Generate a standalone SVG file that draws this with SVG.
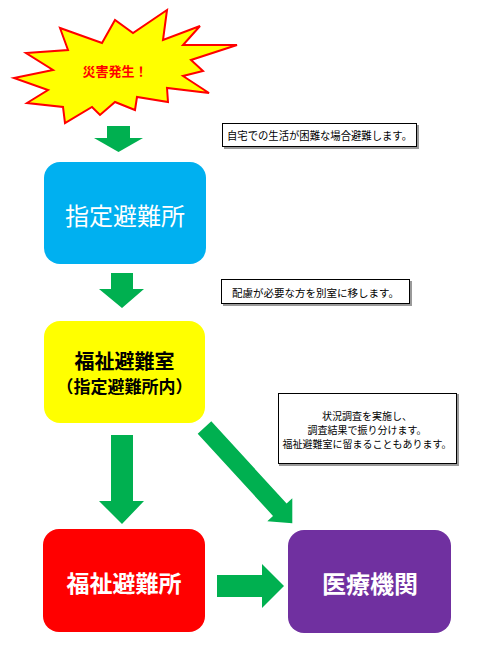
<svg xmlns="http://www.w3.org/2000/svg" width="481" height="655" viewBox="0 0 481 655">
<style>
text{font-family:"Noto Sans CJK JP","Noto Sans CJK SC",sans-serif;text-anchor:middle;dominant-baseline:central}
.big{font-size:23px;fill:#fff;font-weight:bold}
.note{font-size:10.3px;fill:#000}
.nbox{fill:#fff;stroke:#000;stroke-width:1}
.shadow{fill:#9a9a9a}
.arrow{fill:#00B050}
</style>
<rect width="481" height="655" fill="#fff"/>
<g id="disaster">
<polygon points="167,10 163,40 200,26 183,45 237,45 191,60 203,71 183,76 209,93 167,88 168,102 137,97 135,110 115,102 100,115 92,107 65,123 63,107 27,103 48,90 14,78 53,70 26,53 68,50 60,28 102,43 115,20 133,33" fill="#FFFF00" stroke="#FF0000" stroke-width="2" stroke-linejoin="miter"/>
<text x="115" y="70" style="font-size:13px;fill:#FF0000;font-weight:bold">災害発生！</text>
</g>
<g id="note1">
<rect class="shadow" x="224" y="125" width="195" height="24"/>
<rect class="nbox" x="222.5" y="123.5" width="194" height="23"/>
<text class="note" x="319.5" y="135" textLength="185" lengthAdjust="spacingAndGlyphs" style="font-size:10.8px">自宅での生活が困難な場合避難します。</text>
</g>
<g id="shitei">
<rect x="44" y="162" width="162" height="102" rx="16" fill="#00B0F0"/>
<text class="big" x="125" y="214" style="font-weight:normal;font-size:24px">指定避難所</text>
</g>
<g id="note2">
<rect class="shadow" x="223" y="281" width="189" height="25"/>
<rect class="nbox" x="221.5" y="279.5" width="188" height="24"/>
<text class="note" x="315.5" y="292" style="font-size:10.5px">配慮が必要な方を別室に移します。</text>
</g>
<g id="fukushi-shitsu">
<rect x="44" y="321" width="161" height="102" rx="16" fill="#FFFF00"/>
<text x="124.5" y="360" style="font-size:20px;font-weight:bold;fill:#000">福祉避難室</text>
<text x="124.5" y="385" style="font-size:17px;font-weight:bold;fill:#000">（指定避難所内）</text>
</g>
<g id="note3">
<rect class="shadow" x="279" y="394" width="180" height="72"/>
<rect class="nbox" x="278.5" y="393.5" width="178" height="70"/>
<text class="note" x="367" y="415" style="font-size:10px">状況調査を実施し、</text>
<text class="note" x="367" y="429" style="font-size:10px">調査結果で振り分けます。</text>
<text class="note" x="367" y="443" style="font-size:10px">福祉避難室に留まることもあります。</text>
</g>
<g id="fukushi-sho">
<rect x="43" y="529" width="162" height="103" rx="16" fill="#FF0000"/>
<text class="big" x="124" y="582">福祉避難所</text>
</g>
<g id="iryo">
<rect x="288" y="530" width="163" height="103" rx="16" fill="#7030A0"/>
<text class="big" x="370" y="582" style="font-size:24px">医療機関</text>
</g>
<g id="connectors">
<polygon class="arrow" points="107,126 130,126 130,138 143,138 118.5,152 94,138 107,138"/>
<polygon class="arrow" points="111,273 133,273 133,289 144,289 122,308 99,289 111,289"/>
<polygon class="arrow" points="111,435 133,435 133,501 144,501 122,524 99,501 111,501"/>
<polygon class="arrow" points="217,575 262,575 262,564 284,586 262,608 262,597 217,597"/>
<polygon class="arrow" points="211.3,421.3 286.6,503.5 292.3,498.2 292.3,523.3 267.3,521.2 273,515.9 197.7,433.7"/>
</g>
</svg>
